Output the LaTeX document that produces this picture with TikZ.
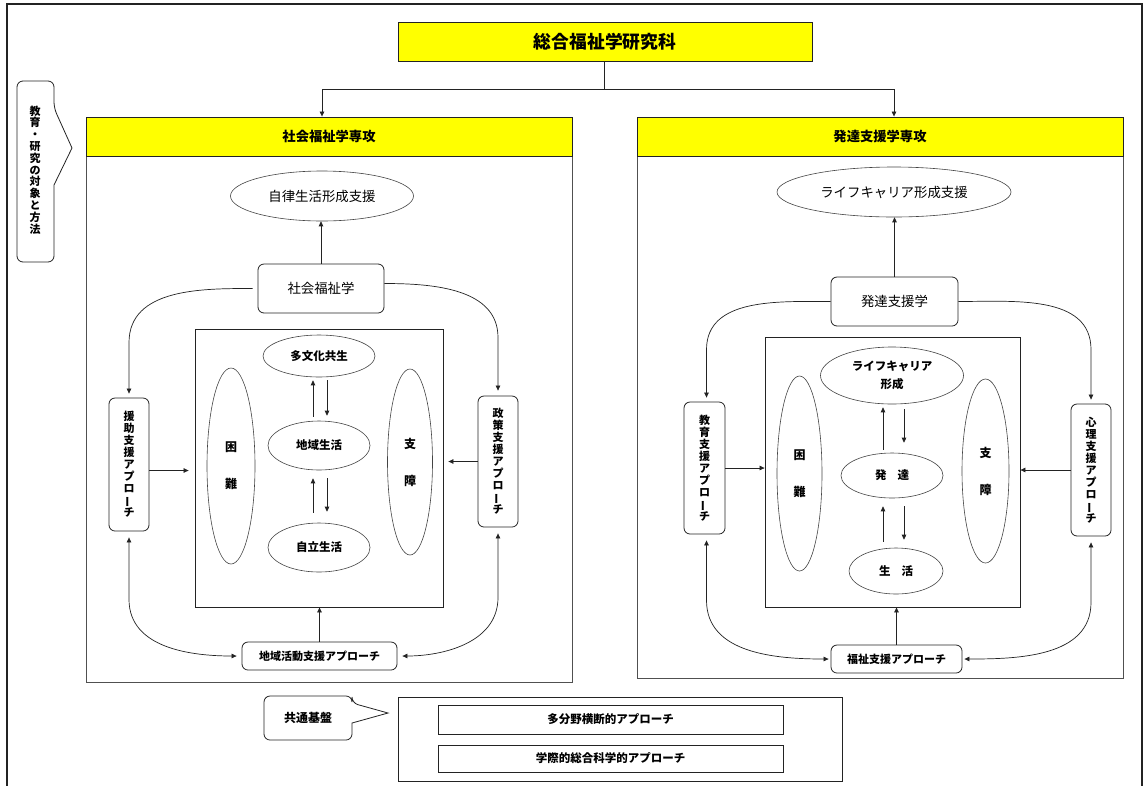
\documentclass[tikz,border=0pt]{standalone}
\usepackage{fontspec}
\setmainfont{Noto Sans CJK JP}
\usetikzlibrary{shapes.geometric,arrows.meta,calc}
\definecolor{hy}{RGB}{255,255,0}
\definecolor{ln}{RGB}{35,35,35}
\definecolor{pl}{RGB}{80,80,80}
\newcommand{\myvbar}{\rotatebox[origin=c]{90}{ー}}
\tikzset{
  ybox/.style={draw=ln, fill=hy, line width=0.9pt, inner sep=0pt, font=\bfseries\fontsize{13.3}{15}\selectfont},
  rbox/.style={draw=ln, rounded corners=6pt, line width=0.8pt, inner sep=0pt, align=center},
  sbox/.style={draw=ln, line width=0.8pt, inner sep=0pt, align=center},
  oval/.style={draw=ln!85, ellipse, line width=0.6pt, inner sep=0pt, align=center},
  lab/.style={font=\bfseries\fontsize{11.5}{14}\selectfont},
  big/.style={font=\fontsize{13.4}{16}\selectfont},
  vt/.style={font=\bfseries\fontsize{11}{12}\selectfont},
  pair/.style={font=\bfseries\fontsize{12}{37}\selectfont},
  arr/.style={-{Triangle[length=5pt,width=4.5pt]}, line width=0.7pt, draw=ln},
  darr/.style={{Triangle[length=5pt,width=4.5pt]}-{Triangle[length=5pt,width=4.5pt]}, line width=0.7pt, draw=ln}
}
\begin{document}
\begin{tikzpicture}[x=1pt,y=-1pt]
\useasboundingbox (0,0) rectangle (1147,785);
\fill[white] (0,0) rectangle (1147,785);
% outer frame
\draw[ln, line width=1.3pt] (7,4) rectangle (1142,800);

% title
\node[ybox, minimum width=414pt, minimum height=39pt, font=\bfseries\fontsize{17.8}{20}\selectfont] (title) at (605,41.5) {総合福祉学研究科};

% panels
\draw[pl, line width=1pt] (86,117) rectangle (572,682);
\draw[pl, line width=1pt] (637,117) rectangle (1123,678);
\node[ybox, minimum width=486pt, minimum height=39pt] (lhead) at (329,136.5) {社会福祉学専攻};
\node[ybox, minimum width=486pt, minimum height=39pt] (rhead) at (880,136.5) {発達支援学専攻};

% left callout
\node[font=\bfseries\fontsize{11}{11.8}\selectfont, align=center, inner sep=0pt] (callL) at (35,170) {教\\育\\・\\研\\究\\の\\対\\象\\と\\方\\法};
\draw[ln, line width=0.8pt, rounded corners=6pt] (54,185) -- (54,262) -- (17,262) -- (17,81) -- (54,81) -- (54,108) [sharp corners] -- (72,148) -- cycle;

% ---------------- left panel ----------------
\node[oval, big, minimum width=183pt, minimum height=50pt] (le) at (322,196) {自律生活形成支援};
\node[rbox, big, minimum width=126pt, minimum height=49pt] (lsci) at (321,288.5) {社会福祉学};
\node[sbox, minimum width=248pt, minimum height=278pt] (lsq) at (319,468) {};
\node[oval, lab, minimum width=112pt, minimum height=42pt] (lt) at (319,356) {多文化共生};
\node[oval, lab, minimum width=102pt, minimum height=49pt] (lm) at (319,445.5) {地域生活};
\node[oval, lab, minimum width=102pt, minimum height=49pt] (lb) at (319,547.5) {自立生活};
\node[oval, pair, minimum width=48pt, minimum height=196pt] (ld) at (231,466) {困\\難};
\node[oval, pair, minimum width=45pt, minimum height=186pt] (ls) at (410,462) {支\\障};
\node[rbox, vt, minimum width=40pt, minimum height=133pt] (lapp1) at (129,464.5) {援\\助\\支\\援\\ア\\プ\\ロ\\\myvbar\\チ};
\node[rbox, vt, minimum width=40pt, minimum height=131pt] (lapp2) at (498,461.5) {政\\策\\支\\援\\ア\\プ\\ロ\\\myvbar\\チ};
\node[rbox, vt, minimum width=155pt, minimum height=28pt] (lapp3) at (319.5,656) {地域活動支援アプローチ};

\draw[arr] (lsci.north) -- (lsci.north |- le.south);
\draw[arr, shorten <=4pt, shorten >=3pt] ([xshift=-6pt]lm.north) -- ([xshift=-6pt]lt.south);
\draw[arr, shorten <=3pt, shorten >=5pt] ([xshift=8pt]lt.south) -- ([xshift=8pt]lm.north);
\draw[arr, shorten <=10pt, shorten >=8pt] ([xshift=-6pt]lb.north) -- ([xshift=-6pt]lm.south);
\draw[arr, shorten <=8pt, shorten >=11pt] ([xshift=8pt]lm.south) -- ([xshift=8pt]lb.north);
\draw[arr, shorten >=6pt] ([yshift=-6pt]lapp1.east) -- ([yshift=-6pt]lapp1.east -| lsq.west);
\draw[arr, shorten >=5pt] (lapp2.west) -- (lapp2.west -| lsq.east);
\draw[arr] (lapp3.north) -- (lapp3.north |- lsq.south);
\draw[arr, shorten <=5pt, shorten >=4pt] (lsci.west) to[out=180,in=90] ($(lapp1.north)+(0,-55)$) -- (lapp1.north);
\draw[arr, shorten >=5pt] ([yshift=5pt]lsci.east) to[out=0,in=90] ($(lapp2.north)+(0,-58)$) -- (lapp2.north);
\draw[darr, shorten <=6pt, shorten >=5pt] (lapp1.south) -- ($(lapp1.south)+(0,68)$) to[out=-90,in=180] (lapp3.west);
\draw[darr, shorten <=5pt, shorten >=6pt] (lapp3.east) to[out=0,in=-90] ($(lapp2.south)+(0,70)$) -- (lapp2.south);

% ---------------- right panel ----------------
\node[oval, big, minimum width=234pt, minimum height=50pt] (re) at (894,192) {ライフキャリア形成支援};
\node[rbox, big, minimum width=127pt, minimum height=49pt] (rsci) at (894.5,301.5) {発達支援学};
\node[sbox, minimum width=255pt, minimum height=270pt] (rsq) at (892.5,472) {};
\node[oval, font=\bfseries\fontsize{11.5}{18}\selectfont, minimum width=143pt, minimum height=57pt] (rt) at (892,375.5) {ライフキャリア\\形成};
\node[oval, lab, minimum width=102pt, minimum height=45pt] (rm) at (892,475.5) {発\hspace{11pt}達};
\node[oval, lab, minimum width=94pt, minimum height=46pt] (rb) at (896,571) {生\hspace{11pt}活};
\node[oval, pair, minimum width=45pt, minimum height=195pt] (rd) at (799.5,473.5) {困\\難};
\node[oval, pair, minimum width=47pt, minimum height=184pt] (rs) at (985.5,471) {支\\障};
\node[rbox, vt, minimum width=41pt, minimum height=132pt] (rapp1) at (704.5,468) {教\\育\\支\\援\\ア\\プ\\ロ\\\myvbar\\チ};
\node[rbox, vt, minimum width=40pt, minimum height=132pt] (rapp2) at (1091,470) {心\\理\\支\\援\\ア\\プ\\ロ\\\myvbar\\チ};
\node[rbox, vt, minimum width=131pt, minimum height=28pt] (rapp3) at (896.5,659) {福祉支援アプローチ};

\draw[arr] (rsci.north) -- (rsci.north |- re.south);
\draw[arr, shorten <=3pt, shorten >=3pt] ([xshift=-9pt]rm.north) -- ([xshift=-9pt]rt.south);
\draw[arr, shorten <=5pt, shorten >=10pt] ([xshift=12pt]rt.south) -- ([xshift=12pt]rm.north);
\draw[arr, shorten <=6pt, shorten >=8pt] ([xshift=-9pt]rm.south |- rb.north) -- ([xshift=-9pt]rm.south);
\draw[arr, shorten <=8pt, shorten >=8pt] ([xshift=12pt]rm.south) -- ([xshift=12pt]rm.south |- rb.north);
\draw[arr] (rapp1.east) -- (rapp1.east -| rsq.west);
\draw[arr] (rapp2.west) -- (rapp2.west -| rsq.east);
\draw[arr] (rapp3.north) -- (rapp3.north |- rsq.south);
\draw[arr, shorten >=4pt] (rsci.west) to[out=180,in=90] ($(rapp1.north)+(2,-52)$) -- ($(rapp1.north)+(2,0)$);
\draw[arr, shorten >=4pt] (rsci.east) to[out=0,in=90] ($(rapp2.north)+(0,-54)$) -- (rapp2.north);
\draw[darr, shorten <=6pt, shorten >=2pt] ($(rapp1.south)+(2,0)$) -- ($(rapp1.south)+(2,66)$) to[out=-90,in=180] (rapp3.west);
\draw[darr, shorten <=2pt, shorten >=6pt] (rapp3.east) to[out=0,in=-90] ($(rapp2.south)+(0,66)$) -- (rapp2.south);

% ---------------- common base ----------------
\node[font=\bfseries\fontsize{12}{14}\selectfont] (kyo) at (308,718) {共通基盤};
\draw[ln, line width=0.8pt, rounded corners=6pt] (352,723) -- (352,740) -- (264,740) -- (264,696) -- (352,696) -- (352,703) [sharp corners] -- (388,713) -- cycle;
\node[sbox, minimum width=444pt, minimum height=84pt] (base) at (620,739) {};
\node[sbox, font=\bfseries\fontsize{11.5}{13}\selectfont, minimum width=345pt, minimum height=29pt] (m1) at (610.5,719.5) {多分野横断的アプローチ};
\node[sbox, font=\bfseries\fontsize{11.5}{13}\selectfont, minimum width=345pt, minimum height=27pt] (m2) at (610.5,758.5) {学際的総合科学的アプローチ};

% connectors from title
\coordinate (split) at (604,89);
\draw[ln, line width=0.7pt] (title.south -| split) -- (split);
\draw[arr] (split) -| (lhead.north -| le.north);
\draw[arr] (split) -| (rhead.north -| re.north);
\end{tikzpicture}
\end{document}
